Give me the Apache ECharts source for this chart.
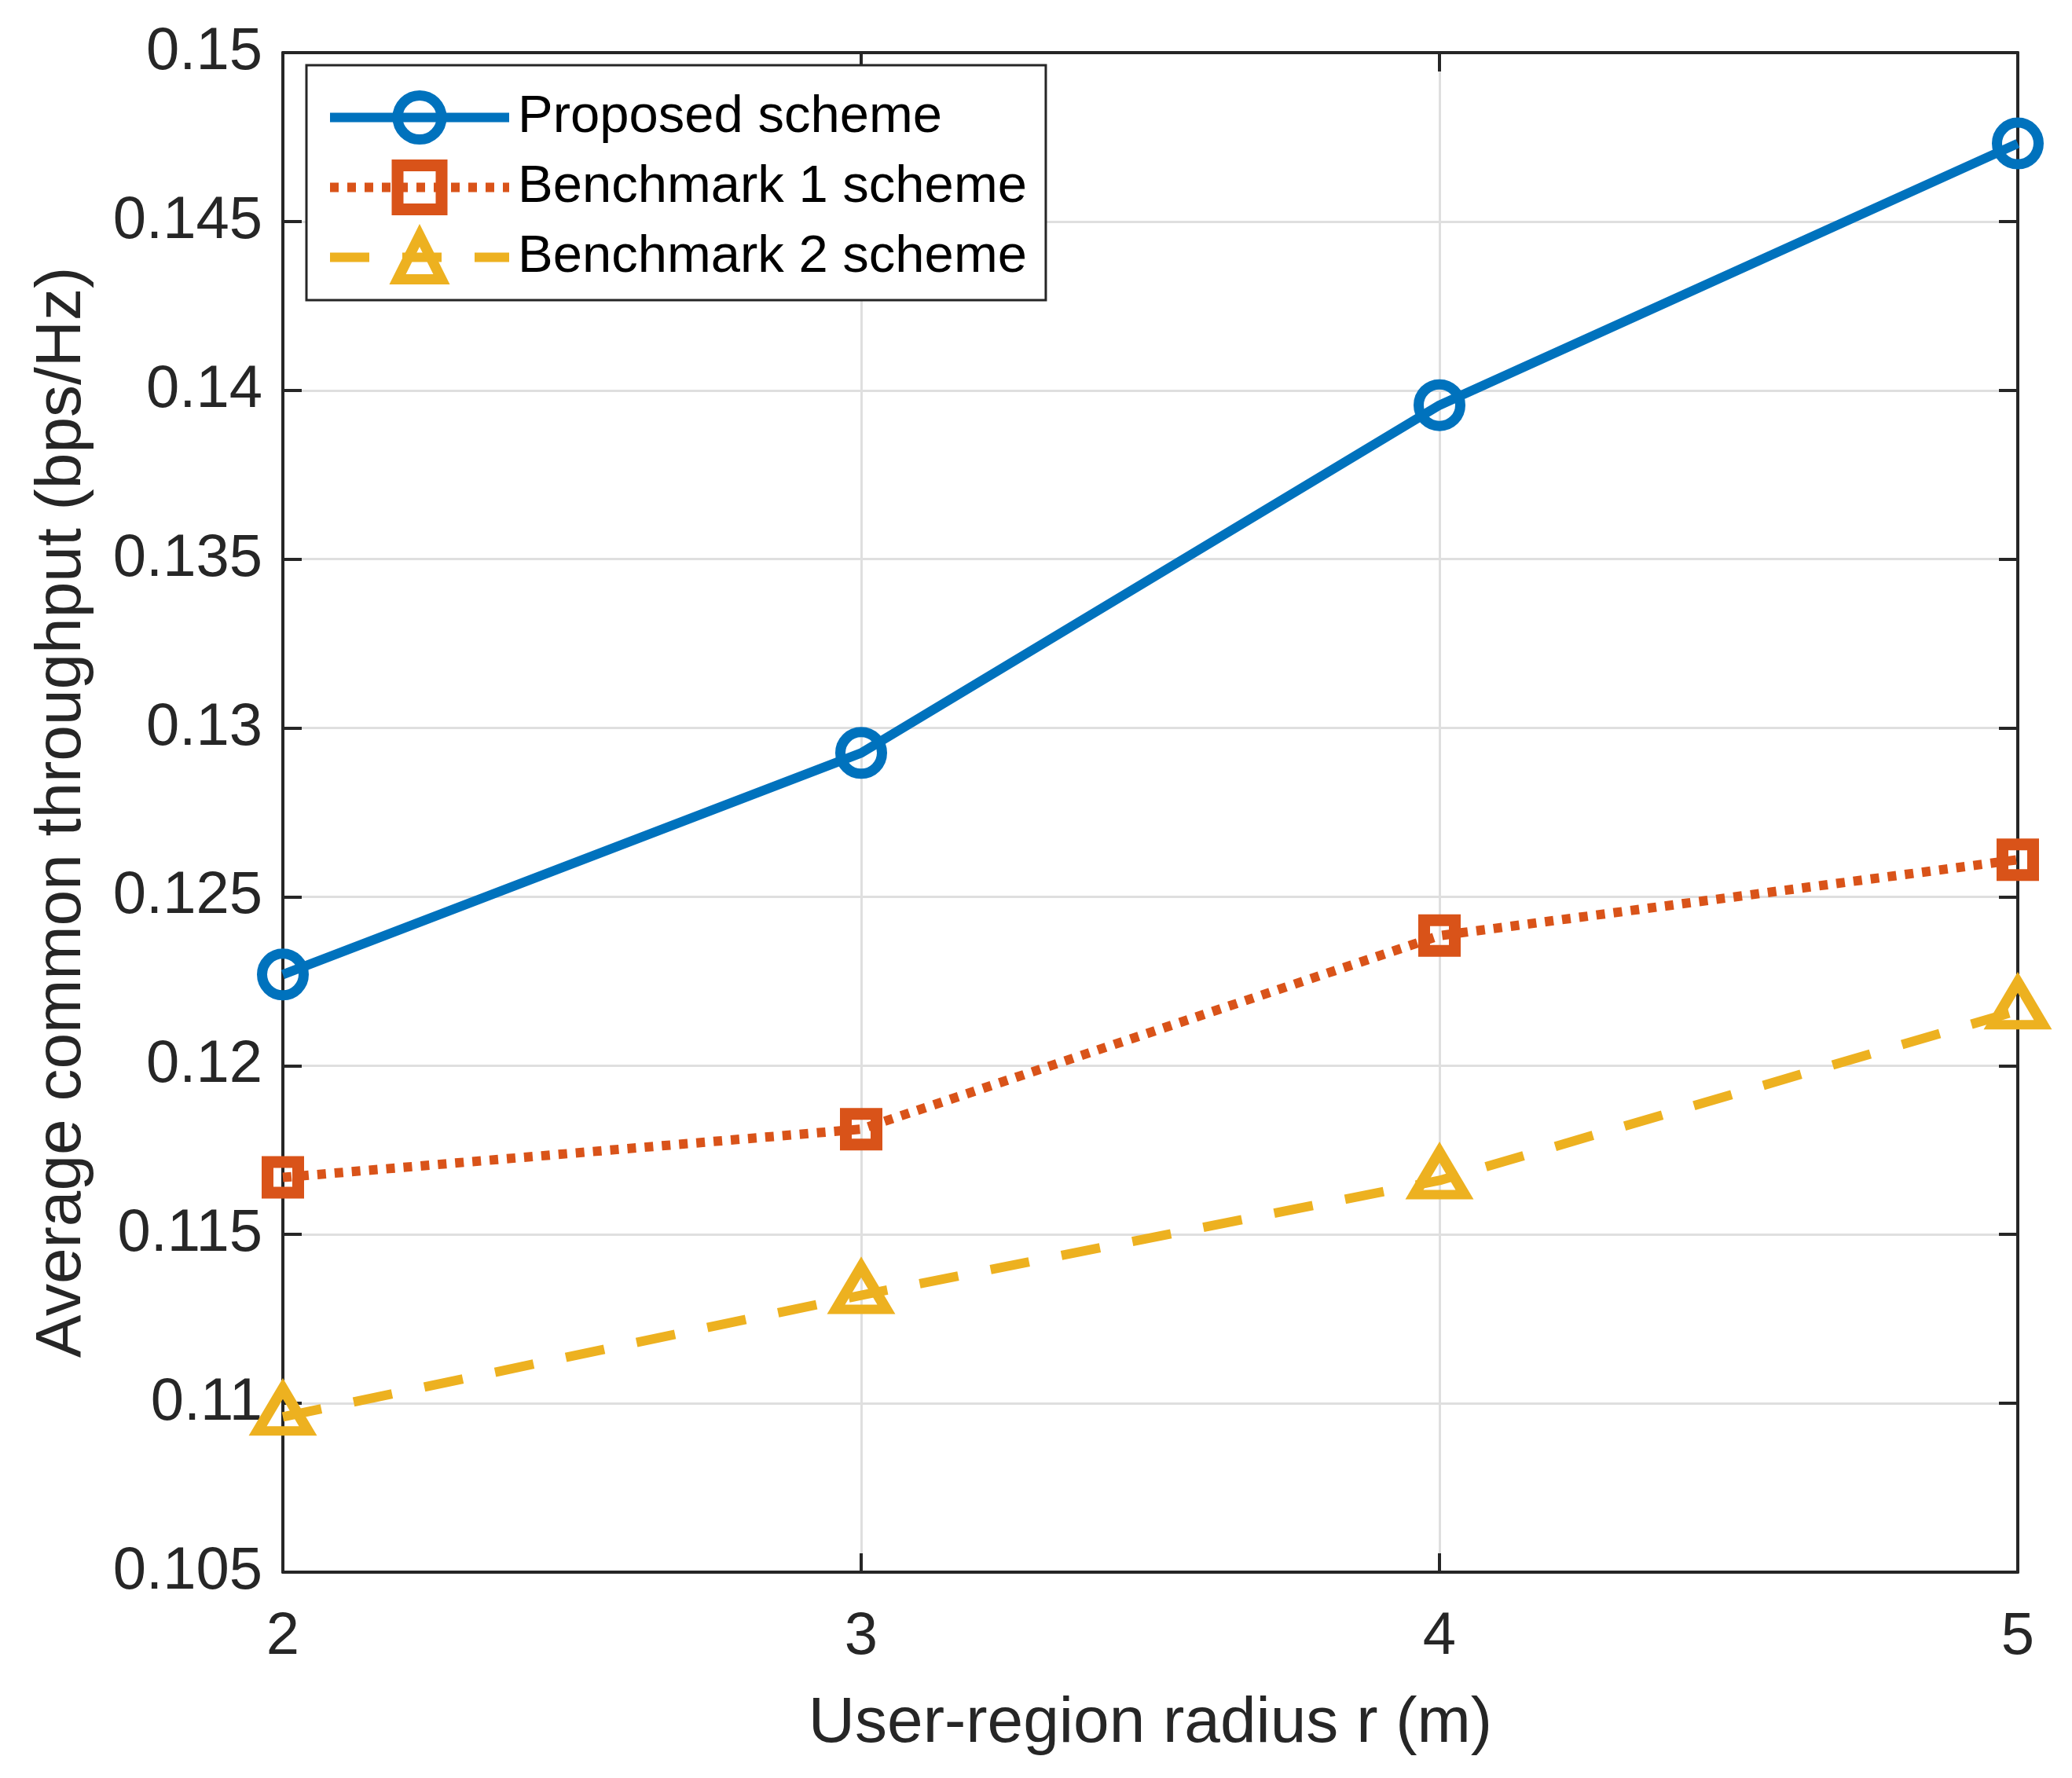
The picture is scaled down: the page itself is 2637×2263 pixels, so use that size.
<!DOCTYPE html>
<html>
<head>
<meta charset="utf-8">
<script src="https://cdn.jsdelivr.net/npm/echarts@6.0.0/dist/echarts.min.js"></script>
<style>
  html, body { margin: 0; padding: 0; background: #fff; }
  #chart { width: 2637px; height: 2263px; }
</style>
</head>
<body>
<div id="chart"></div>
<script>
// user-region radius r (m)
var radius = [2, 3, 4, 5];
// average common throughput (bps/Hz)
var proposed = [0.1227, 0.12926, 0.13956, 0.14731];
var bench1 = [0.11669, 0.11812, 0.12385, 0.1261];
var bench2 = [0.1096, 0.1132, 0.1166, 0.12163];
var seriesNames = ['Proposed scheme', 'Benchmark 1 scheme', 'Benchmark 2 scheme'];

var FONT = '"Liberation Sans", Arial, Helvetica, sans-serif';
var AX = '#262626';

function pairs(ys) {
    var out = [];
    for (var i = 0; i < radius.length; i++) {
        out.push([radius[i], ys[i]]);
    }
    return out;
}

function fmtY(v) {
    return parseFloat(v.toFixed(3)).toString();
}

var myChart = echarts.init(document.getElementById('chart'));

var xBase = {
    type: 'value', min: 2, max: 5, interval: 1,
    axisLine: { show: true, onZero: false, lineStyle: { color: AX, width: 4 } },
    axisTick: { show: true, inside: true, length: 24, lineStyle: { color: AX, width: 4 } }
};
var yBase = {
    type: 'value', min: 0.105, max: 0.15, interval: 0.005,
    axisLine: { show: true, onZero: false, lineStyle: { color: AX, width: 4 } },
    axisTick: { show: true, inside: true, length: 24, lineStyle: { color: AX, width: 4 } }
};

var option = {
    backgroundColor: '#fff',
    animation: false,
    grid: { left: 360, right: 69, top: 67, bottom: 262 },
    legend: {
        orient: 'vertical',
        left: 390,
        top: 83,
        padding: [32, 24, 20, 24],
        itemWidth: 228,
        itemHeight: 70,
        itemGap: 19,
        borderColor: AX,
        borderWidth: 3,
        backgroundColor: '#fff',
        textStyle: { fontSize: 67, color: '#000', fontFamily: FONT, padding: [0, 0, 0, 6] },
        data: [
            { name: seriesNames[0], lineStyle: { width: 12 }, itemStyle: { borderWidth: 13 } },
            { name: seriesNames[1], lineStyle: { width: 12 }, itemStyle: { borderWidth: 15 } },
            { name: seriesNames[2], lineStyle: { width: 12 }, itemStyle: { borderWidth: 13 } }
        ]
    },
    xAxis: [
        Object.assign({}, xBase, {
            position: 'bottom',
            name: 'User-region radius r (m)',
            nameLocation: 'middle',
            nameGap: 152,
            nameTextStyle: { fontSize: 82, color: AX, fontFamily: FONT },
            axisLabel: { fontSize: 76, color: AX, fontFamily: FONT, margin: 45 },
            splitLine: { show: true, lineStyle: { color: '#dfdfdf', width: 3 } }
        }),
        Object.assign({}, xBase, {
            position: 'top',
            axisLabel: { show: false },
            splitLine: { show: false }
        })
    ],
    yAxis: [
        Object.assign({}, yBase, {
            position: 'left',
            name: 'Average common throughput (bps/Hz)',
            nameLocation: 'middle',
            nameGap: 240,
            nameTextStyle: { fontSize: 82, color: AX, fontFamily: FONT },
            axisLabel: { fontSize: 76, color: AX, fontFamily: FONT, margin: 26, formatter: fmtY },
            splitLine: { show: true, lineStyle: { color: '#dfdfdf', width: 3 } }
        }),
        Object.assign({}, yBase, {
            position: 'right',
            axisLabel: { show: false },
            splitLine: { show: false }
        })
    ],
    series: [
        {
            name: seriesNames[0],
            type: 'line',
            clip: false,
            data: pairs(proposed),
            symbol: 'circle',
            symbolSize: 53,
            lineStyle: { color: '#0072BD', width: 12, type: 'solid' },
            itemStyle: { color: 'transparent', borderColor: '#0072BD', borderWidth: 13 },
            z: 5
        },
        {
            name: seriesNames[1],
            type: 'line',
            clip: false,
            data: pairs(bench1),
            symbol: 'rect',
            symbolSize: 39,
            lineStyle: { color: '#D95319', width: 12, type: [11, 11], cap: 'butt' },
            itemStyle: { color: 'transparent', borderColor: '#D95319', borderWidth: 15, borderJoin: 'miter' },
            z: 4
        },
        {
            name: seriesNames[2],
            type: 'line',
            clip: false,
            data: pairs(bench2),
            symbol: 'triangle',
            symbolSize: [64, 54],
            symbolOffset: [0, -9],
            lineStyle: { color: '#EDB120', width: 12, type: [50, 42], cap: 'butt' },
            itemStyle: { color: 'transparent', borderColor: '#EDB120', borderWidth: 13, borderJoin: 'miter' },
            z: 3
        }
    ]
};

option && myChart.setOption(option);
</script>
</body>
</html>
